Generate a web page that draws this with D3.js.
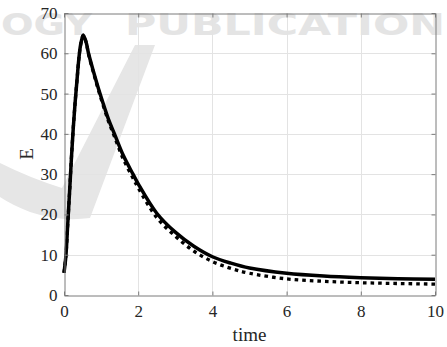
<!DOCTYPE html>
<html>
<head>
<meta charset="utf-8">
<script src="https://cdn.jsdelivr.net/npm/d3@7"></script>
<style>
  body { margin: 0; background: #fff; }
  svg { display: block; }
</style>
</head>
<body>
<div id="chart"></div>
<script>
// time samples and the two E curves (solid / dotted)
const timeValues = [0, 0.05, 0.1, 0.15, 0.2, 0.25, 0.3, 0.35, 0.4, 0.45, 0.52, 0.6, 0.66, 0.8, 0.97, 1.2, 1.36, 1.6, 1.86, 2, 2.5, 3, 3.5, 4, 4.5, 5, 6, 7, 8, 9, 10];
const solidE = [5.5, 9.6, 17.5, 25.5, 34, 41.5, 47.8, 53.3, 58.6, 62.2, 64.5, 62.6, 60, 55.3, 50, 43.6, 40, 34.6, 30, 27.6, 20.3, 15.6, 12.1, 9.5, 7.9, 6.7, 5.4, 4.7, 4.3, 4.05, 3.9];
const dottedE = [5.5, 9.6, 17.5, 25.5, 34, 41.5, 47.8, 53.3, 58.6, 62.2, 64.5, 62.6, 59.8, 55, 49.6, 43.1, 39.3, 33.7, 29, 26.6, 19.2, 14.6, 10.9, 8.3, 6.6, 5.4, 4.0, 3.4, 3.05, 2.85, 2.7];

const xTicks = [0, 2, 4, 6, 8, 10];
const yTicks = [0, 10, 20, 30, 40, 50, 60, 70];

const width = 447;
const height = 347;
const margin = { top: 13, right: 12, bottom: 52, left: 64 };

const svg = d3
  .select("#chart")
  .append("svg")
  .attr("width", width)
  .attr("height", height);

// watermark (publisher logo + text)
svg
  .append("path")
  .attr("d", "M135,45 L155,45 L90,218 Q60,222 30,212 Q12,205 0,197 L0,163 Q30,178 62,188 Z")
  .attr("fill", "#e6e6e6");

const wmText = (sel) =>
  sel
    .style("font-family", "DejaVu Sans")
    .style("font-weight", "bold")
    .style("font-size", "30px")
    .attr("lengthAdjust", "spacingAndGlyphs")
    .attr("fill", "#e4e4e4");

svg.append("text").attr("x", 1).attr("y", 35).attr("textLength", 91).call(wmText).text("OGY");
svg.append("text").attr("x", 125).attr("y", 35).attr("textLength", 320).call(wmText).text("PUBLICATION");

const x = d3.scaleLinear().domain([0, 10]).range([margin.left, width - margin.right]);
const y = d3.scaleLinear().domain([0, 70]).range([height - margin.bottom, margin.top]);

const x0 = x.range()[0], x1 = x.range()[1];
const y0 = y.range()[0], y1 = y.range()[1];

// grid
const grid = svg.append("g").attr("stroke", "#e3e3e3").attr("stroke-width", 1);
grid
  .selectAll(".gx")
  .data(xTicks.slice(1, -1))
  .join("line")
  .attr("x1", (d) => Math.round(x(d)) + 0.5)
  .attr("x2", (d) => Math.round(x(d)) + 0.5)
  .attr("y1", y1)
  .attr("y2", y0);
grid
  .selectAll(".gy")
  .data(yTicks.slice(1, -1))
  .join("line")
  .attr("y1", (d) => Math.round(y(d)) + 0.5)
  .attr("y2", (d) => Math.round(y(d)) + 0.5)
  .attr("x1", x0)
  .attr("x2", x1);

// curves
const line = (vals) =>
  d3
    .line()
    .x((d, i) => x(timeValues[i]))
    .y((d) => y(d))
    .curve(d3.curveCatmullRom.alpha(0.5))(vals);

svg
  .append("path")
  .attr("d", line(dottedE))
  .attr("fill", "none")
  .attr("stroke", "#000")
  .attr("stroke-width", 3.3)
  .attr("stroke-dasharray", "3.6,4");

svg
  .append("path")
  .attr("d", line(solidE))
  .attr("fill", "none")
  .attr("stroke", "#000")
  .attr("stroke-width", 3.5)
  .attr("stroke-linejoin", "round");

// axes (box with inward ticks on all sides)
const xAxis = d3.axisBottom(x).tickValues(xTicks).tickSizeInner(-4).tickSizeOuter(0).tickPadding(9);
const yAxis = d3.axisLeft(y).tickValues(yTicks).tickSizeInner(-4).tickSizeOuter(0).tickPadding(7);
const xTop = d3.axisTop(x).tickValues(xTicks).tickSizeInner(-4).tickSizeOuter(0).tickFormat("");
const yRight = d3.axisRight(y).tickValues(yTicks).tickSizeInner(-4).tickSizeOuter(0).tickFormat("");

function styleAxis(g) {
  g.select(".domain").attr("stroke", "#7a7a7a");
  g.selectAll(".tick line").attr("stroke", "#7a7a7a");
  g.selectAll(".tick text")
    .attr("fill", "#262626")
    .style("font-family", "'Liberation Serif', serif")
    .style("font-size", "17px");
}

svg.append("g").attr("transform", `translate(0,${y0 + 0.5})`).call(xAxis).call(styleAxis);
svg.append("g").attr("transform", `translate(${x0 + 0.5},0)`).call(yAxis).call(styleAxis);
svg.append("g").attr("transform", `translate(0,${y1 + 0.5})`).call(xTop).call(styleAxis);
svg.append("g").attr("transform", `translate(${x1 + 0.5},0)`).call(yRight).call(styleAxis);

// axis labels
svg
  .append("text")
  .attr("x", (x0 + x1) / 2)
  .attr("y", 341)
  .attr("text-anchor", "middle")
  .style("font-family", "'Liberation Serif', serif")
  .style("font-size", "19px")
  .attr("fill", "#262626")
  .text("time");

svg
  .append("text")
  .attr("transform", `translate(33,${(y0 + y1) / 2}) rotate(-90)`)
  .attr("text-anchor", "middle")
  .style("font-family", "'Liberation Serif', serif")
  .style("font-size", "19px")
  .attr("fill", "#262626")
  .text("E");
</script>
</body>
</html>
